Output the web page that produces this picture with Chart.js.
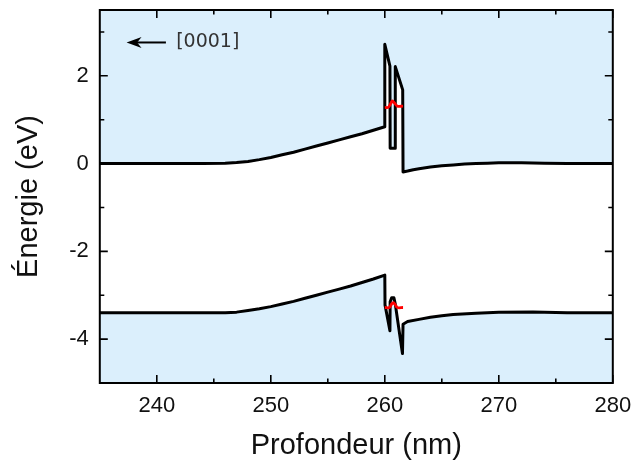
<!DOCTYPE html>
<html><head><meta charset="utf-8">
<script src="https://cdn.jsdelivr.net/npm/chart.js@4/dist/chart.umd.min.js"></script>
<style>html,body{margin:0;padding:0;background:#fff;}</style>
</head><body>
<canvas id="c" width="633" height="463"></canvas>
<script>
// Conduction band (eV) vs depth (nm)
const cbDepth  = [235, 244, 246, 247, 248, 249, 250, 251, 252, 253, 254, 255, 256, 257, 258, 259, 260, 260.0, 260.45, 260.47, 260.9, 260.92, 261.57, 261.6, 262, 262.5, 263, 264, 265, 266, 267, 268, 269, 270, 272, 274, 276, 280];
const cbEnergy = [0, 0, 0.01, 0.025, 0.05, 0.09, 0.14, 0.2, 0.26, 0.33, 0.4, 0.47, 0.54, 0.61, 0.68, 0.76, 0.84, 2.72, 2.22, 0.35, 0.35, 2.21, 1.68, -0.19, -0.17, -0.14, -0.12, -0.08, -0.05, -0.03, -0.01, 0.0, 0.01, 0.02, 0.02, 0.01, 0, 0];
// Valence band
const vbDepth  = [235, 246, 247, 248, 249, 250, 251, 252, 253, 254, 255, 256, 257, 258, 259, 260, 260.02, 260.45, 260.47, 260.6, 260.8, 260.92, 261.55, 261.6, 262, 263, 264, 265, 266, 268, 270, 273, 276, 280];
const vbEnergy = [-3.4, -3.4, -3.385, -3.35, -3.31, -3.26, -3.2, -3.14, -3.07, -3.0, -2.93, -2.86, -2.79, -2.71, -2.63, -2.54, -3.22, -3.81, -3.15, -3.06, -3.06, -3.2, -4.33, -3.66, -3.6, -3.55, -3.5, -3.47, -3.44, -3.41, -3.39, -3.38, -3.4, -3.4];
// Confined levels (red)
const eLevelDepth  = [260.0, 260.3, 260.5, 260.66, 260.85, 261.1, 261.6];
const eLevelEnergy = [1.28, 1.28, 1.36, 1.43, 1.38, 1.31, 1.31];
const hLevelDepth  = [260.0, 260.4, 260.6, 260.75, 260.9, 261.1, 261.6];
const hLevelEnergy = [-3.28, -3.28, -3.2, -3.17, -3.21, -3.28, -3.28];
// Axis ticks
const xTicks = [240, 250, 260, 270, 280];
const xMinor = [245, 255, 265, 275];
const yTicks = [-4, -2, 0, 2];
const yMinor = [-3, -1, 1, 3];

const pts = (xs, ys) => xs.map((x, i) => ({x, y: ys[i]}));
const blue = 'rgb(219,239,252)';

const framePlugin = {
  id: 'frame',
  afterDatasetsDraw(chart) {
    const {ctx, chartArea: a, scales: {x, y}} = chart;
    ctx.save();
    ctx.strokeStyle = '#000';
    ctx.lineWidth = 1.6;
    ctx.beginPath();
    const tx = (v, L) => { const p = x.getPixelForValue(v); ctx.moveTo(p, a.bottom); ctx.lineTo(p, a.bottom - L); ctx.moveTo(p, a.top); ctx.lineTo(p, a.top + L); };
    const ty = (v, L) => { const p = y.getPixelForValue(v); ctx.moveTo(a.left, p); ctx.lineTo(a.left + L, p); ctx.moveTo(a.right, p); ctx.lineTo(a.right - L, p); };
    xTicks.forEach(v => tx(v, 8)); xMinor.forEach(v => tx(v, 4.5));
    yTicks.forEach(v => ty(v, 8)); yMinor.forEach(v => ty(v, 4.5));
    ctx.stroke();
    ctx.lineWidth = 2;
    ctx.strokeRect(a.left, a.top, a.right - a.left, a.bottom - a.top);
    // direction annotation
    const ann = chart.options.plugins.frame;
    const tipX = x.getPixelForValue(ann.tipX), tailX = x.getPixelForValue(ann.tailX);
    const ay = y.getPixelForValue(ann.y);
    ctx.lineWidth = 2;
    ctx.beginPath(); ctx.moveTo(tipX + 10, ay); ctx.lineTo(tailX, ay); ctx.stroke();
    ctx.fillStyle = '#000';
    ctx.beginPath();
    ctx.moveTo(tipX, ay); ctx.lineTo(tipX + 15, ay - 5.5); ctx.lineTo(tipX + 10.5, ay); ctx.lineTo(tipX + 15, ay + 5.5); ctx.closePath(); ctx.fill();
    ctx.fillStyle = '#333';
    ctx.font = '19px "DejaVu Sans"';
    ctx.textBaseline = 'middle'; ctx.textAlign = 'left';
    ctx.fillText(ann.text, x.getPixelForValue(ann.textX), ay);
    ctx.restore();
  }
};

new Chart(document.getElementById('c'), {
  type: 'line',
  data: {
    datasets: [
      {data: pts(eLevelDepth, eLevelEnergy), borderColor: '#ff0000', borderWidth: 2.8, fill: false, tension: 0.35, order: 0},
      {data: pts(hLevelDepth, hLevelEnergy), borderColor: '#ff0000', borderWidth: 2.8, fill: false, tension: 0.35, order: 0},
      {data: pts(cbDepth, cbEnergy), borderColor: '#000', borderWidth: 3, fill: 'end', backgroundColor: blue, tension: 0, order: 1},
      {data: pts(vbDepth, vbEnergy), borderColor: '#000', borderWidth: 3, fill: 'start', backgroundColor: blue, tension: 0, order: 1}
    ]
  },
  options: {
    responsive: false,
    animation: false,
    devicePixelRatio: 1,
    elements: {point: {radius: 0, hoverRadius: 0}, line: {borderJoinStyle: 'round', borderCapStyle: 'butt'}},
    layout: {padding: {left: 12, right: 20.2, top: 10, bottom: 0}},
    plugins: {
      legend: {display: false}, tooltip: {enabled: false},
      frame: {tipX: 237.35, tailX: 240.8, y: 2.76, textX: 241.7, text: '[0001]'}
    },
    scales: {
      x: {
        type: 'linear', min: 235, max: 280,
        grid: {display: false, drawTicks: false}, border: {display: false},
        afterBuildTicks: s => { s.ticks = xTicks.map(v => ({value: v})); },
        afterFit: s => { s.height = 80; s.paddingLeft = 0; s.paddingRight = 0; },
        ticks: {font: {family: '"Liberation Sans", Arial', size: 22}, color: '#111', padding: 10, maxRotation: 0},
        title: {display: true, text: 'Profondeur (nm)', font: {family: '"Liberation Sans", Arial', size: 29}, color: '#111', padding: {top: 0, bottom: 0}}
      },
      y: {
        type: 'linear', min: -5, max: 3.5,
        grid: {display: false, drawTicks: false}, border: {display: false},
        afterBuildTicks: s => { s.ticks = yTicks.map(v => ({value: v})); },
        afterFit: s => { s.width = 87.8; s.paddingTop = 0; s.paddingBottom = 0; },
        ticks: {font: {family: '"Liberation Sans", Arial', size: 22}, color: '#111', padding: 11},
        title: {display: true, text: 'Énergie (eV)', font: {family: '"Liberation Sans", Arial', size: 29}, color: '#111', padding: {top: 0, bottom: 0}}
      }
    }
  },
  plugins: [framePlugin]
});
</script>
</body></html>
